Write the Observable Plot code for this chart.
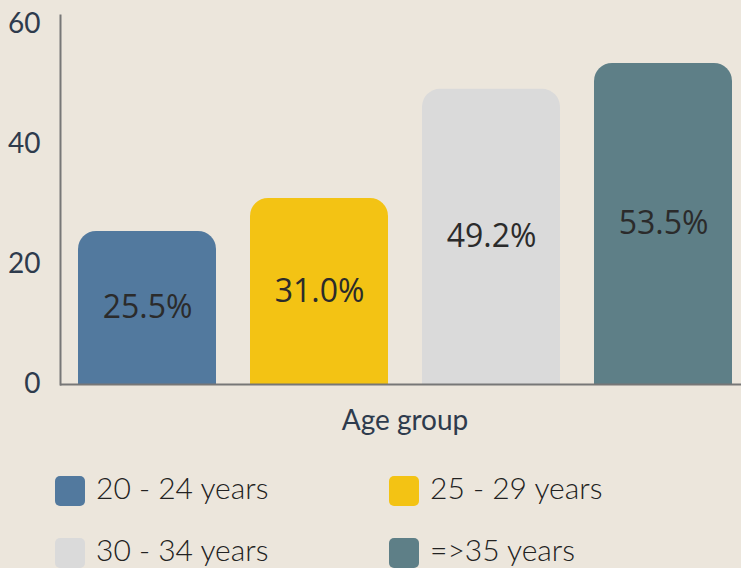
<!DOCTYPE html>
<html>
<head>
<meta charset="utf-8">
<script src="https://cdn.jsdelivr.net/npm/d3@7"></script>
<script src="https://cdn.jsdelivr.net/npm/@observablehq/plot@0.6"></script>
<style>
  html, body { margin: 0; padding: 0; background: #ece6dc; overflow: hidden; }
  #chart { width: 741px; }
  #chart svg { background: #ece6dc; overflow: visible; }
  .legend { display: grid; grid-template-columns: 334px 334px; row-gap: 32px; padding-left: 55px; margin-top: 26px; }
  .item { display: flex; align-items: center; gap: 11px; font-family: Lato, sans-serif; font-weight: 300; font-size: 30px; color: #222; line-height: 30px; height: 30px; }
  .item .t { position: relative; top: -4px; }
  .sw { width: 30px; height: 30px; border-radius: 5px; flex: none; }
</style>
</head>
<body>
<div id="chart"></div>
<script>
const categories = ["20 - 24 years", "25 - 29 years", "30 - 34 years", "=>35 years"];
const values = [25.5, 31.0, 49.2, 53.5];
const colors = ["#52799e", "#f3c314", "#dadada", "#5e7f87"];
const yTicks = [0, 20, 40, 60];
const xLabel = "Age group";

const data = categories.map((c, i) => ({category: c, value: values[i]}));

const plot = Plot.plot({
  width: 741,
  height: 450,
  marginLeft: 60,
  marginRight: -8,
  marginTop: 15,
  marginBottom: 66,
  style: {background: "#ece6dc"},
  x: {domain: categories, padding: 0.2, paddingOuter: 0.1, align: 0.5},
  y: {domain: [0, 61.5]},
  color: {domain: categories, range: colors},
  marks: [
    Plot.barY(data, {x: "category", y: "value", fill: "category", rx: 18, insetBottom: -24, clip: true}),
    Plot.text(data, {x: "category", y: d => d.value / 2, text: d => d.value.toFixed(1) + "%", fill: "#2b2b2b", fontSize: 32, fontFamily: "Open Sans"}),
    Plot.axisY({ticks: yTicks, tickSize: 0, tickPadding: 20, label: null, fontSize: 28, fontFamily: "Lato", color: "#2e3b4d"}),
    Plot.axisX({tickSize: 0, tickFormat: () => "", label: xLabel, labelAnchor: "center", labelArrow: false, labelOffset: 45, fontSize: 28, fontFamily: "Lato", color: "#2e3b4d"}),
    Plot.ruleY([0], {stroke: "#777", strokeWidth: 2}),
    Plot.frame({anchor: "left", stroke: "#777", strokeWidth: 2})
  ]
});
document.getElementById("chart").appendChild(plot);

const legend = document.createElement("div");
legend.className = "legend";
categories.forEach((c, i) => {
  const item = document.createElement("div");
  item.className = "item";
  const sw = document.createElement("span");
  sw.className = "sw";
  sw.style.background = colors[i];
  const t = document.createElement("span");
  t.className = "t";
  t.textContent = c;
  item.appendChild(sw);
  item.appendChild(t);
  legend.appendChild(item);
});
document.getElementById("chart").appendChild(legend);
</script>
</body>
</html>
